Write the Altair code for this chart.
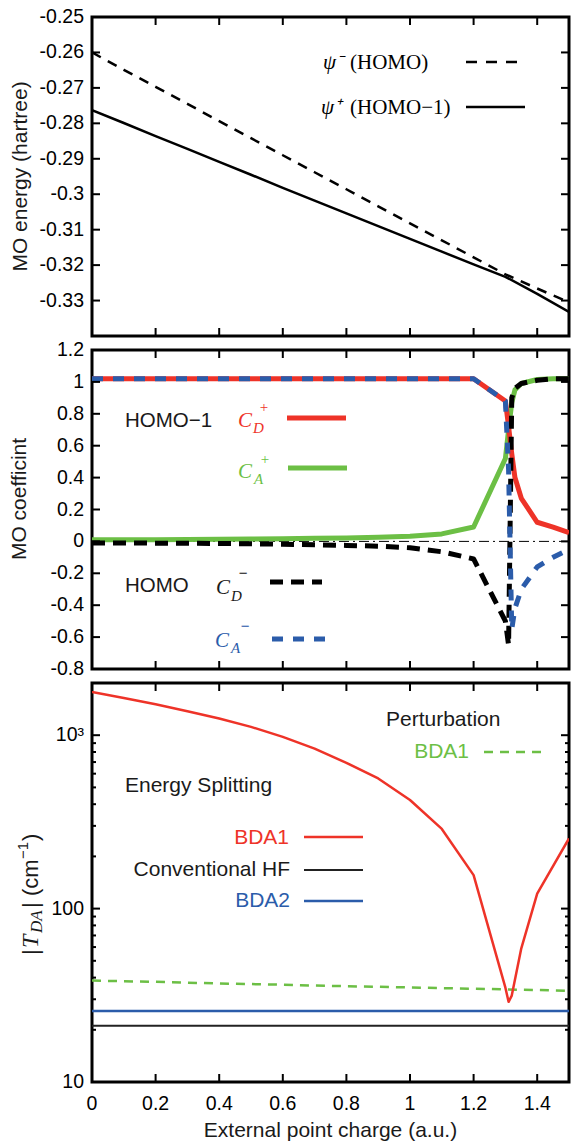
import altair as alt
import pandas as pd

# ---------------- data ----------------
# Panel 1: MO energies (hartree)
x_energy = [0.0, 0.1, 0.2, 0.3, 0.4, 0.5, 0.6, 0.7, 0.8, 0.9, 1.0, 1.1, 1.2, 1.3, 1.4, 1.5]
psi_minus = [-0.2600, -0.2649, -0.2697, -0.2745, -0.2794, -0.2842, -0.2890, -0.2938,
             -0.2986, -0.3034, -0.3082, -0.3130, -0.3178, -0.3226, -0.3266, -0.3305]
psi_plus = [-0.2763, -0.2799, -0.2836, -0.2872, -0.2909, -0.2945, -0.2982, -0.3018,
            -0.3054, -0.3090, -0.3126, -0.3162, -0.3198, -0.3233, -0.3281, -0.3332]

# Panel 2: MO coefficients
x_coef = [0.0, 0.1, 0.2, 0.3, 0.4, 0.5, 0.6, 0.7, 0.8, 0.9, 1.0, 1.1, 1.2,
          1.3, 1.31, 1.32, 1.33, 1.35, 1.4, 1.45, 1.5]
cd_plus = [1.02, 1.02, 1.02, 1.02, 1.02, 1.02, 1.02, 1.02, 1.02, 1.02, 1.02, 1.02, 1.02,
           0.88, 0.72, 0.55, 0.40, 0.27, 0.12, 0.09, 0.055]
ca_plus = [0.010, 0.010, 0.011, 0.012, 0.013, 0.015, 0.017, 0.019, 0.022, 0.026, 0.032, 0.047, 0.090,
           0.52, 0.70, 0.87, 0.95, 0.99, 1.015, 1.02, 1.02]
cd_minus = [-0.010, -0.010, -0.011, -0.012, -0.013, -0.015, -0.018, -0.021, -0.025, -0.030, -0.040, -0.065, -0.110,
            -0.50, -0.65, 0.90, 0.96, 0.99, 1.01, 1.02, 1.02]
ca_minus = [1.02, 1.02, 1.02, 1.02, 1.02, 1.02, 1.02, 1.02, 1.02, 1.02, 1.02, 1.02, 1.02,
            0.88, 0.45, -0.55, -0.42, -0.30, -0.16, -0.10, -0.05]
zero_line = [0.0]

# Panel 3: |T_DA| (cm^-1)
x_tda = [0.0, 0.1, 0.2, 0.3, 0.4, 0.5, 0.6, 0.7, 0.8, 0.9, 1.0, 1.1, 1.2,
         1.3, 1.31, 1.32, 1.35, 1.4, 1.5]
bda1_split = [1776, 1641, 1507, 1374, 1247, 1117, 978, 837, 693, 563, 423, 288, 156,
              35, 29, 31.5, 59, 122, 254]
x_pert = [0.0, 0.1, 0.2, 0.3, 0.4, 0.5, 0.6, 0.7, 0.8, 0.9, 1.0, 1.1, 1.2, 1.3, 1.4, 1.5]
bda1_pert = [38.5, 38.1, 37.8, 37.4, 37.0, 36.7, 36.4, 36.0, 35.7, 35.4, 35.1, 34.8, 34.5, 34.2, 33.9, 33.6]
x_flat = [0.0, 1.5]
hf_conv = [21.1, 21.1]
bda2_split = [25.7, 25.7]

# ticks and tick labels
x_ticks = [0.0, 0.2, 0.4, 0.6, 0.8, 1.0, 1.2, 1.4]
x_tick_labels = ["0", "0.2", "0.4", "0.6", "0.8", "1", "1.2", "1.4"]
e_ticks = [-0.34, -0.33, -0.32, -0.31, -0.30, -0.29, -0.28, -0.27, -0.26, -0.25]
e_label_values = [-0.33, -0.32, -0.31, -0.30, -0.29, -0.28, -0.27, -0.26, -0.25]
e_tick_labels = ["-0.33", "-0.32", "-0.31", "-0.3", "-0.29", "-0.28", "-0.27", "-0.26", "-0.25"]
c_ticks = [-0.8, -0.6, -0.4, -0.2, 0.0, 0.2, 0.4, 0.6, 0.8, 1.0, 1.2]
c_tick_labels = ["-0.8", "-0.6", "-0.4", "-0.2", "0", "0.2", "0.4", "0.6", "0.8", "1", "1.2"]
t_major = [10, 100, 1000]
t_tick_labels = ["10", "100", "10³"]
t_minor = [20, 30, 40, 50, 60, 70, 80, 90, 200, 300, 400, 500, 600, 700, 800, 900]

# texts
title_energy = "MO energy (hartree)"
title_coef = "MO coefficint"
title_x = "External point charge (a.u.)"

# ---------------- style ----------------
FONT = "Liberation Sans"
SERIF = "Liberation Serif"
INK = "#1a1a1a"
RED = "#ee3328"
GREEN = "#6cbf45"
BLUE = "#2b5caa"
W = 477
H1, H2, H3 = 319, 319, 399
LAB = 19.5
PAD0 = {"left": 0, "right": 0, "top": 0, "bottom": 0}

xscale = alt.Scale(domain=[0, 1.5], nice=False, zero=False)
escale = alt.Scale(domain=[-0.34, -0.25], nice=False, zero=False)
cscale = alt.Scale(domain=[-0.8, 1.2], nice=False, zero=False)
tscale = alt.Scale(type="log", domain=[10, 2000], nice=False)

one = pd.DataFrame({"k": [0]})


def line(df, ycol, scale, color, width, dash=None):
    kw = dict(color=color, strokeWidth=width, clip=True, strokeJoin="round")
    if dash:
        kw["strokeDash"] = dash
    return alt.Chart(df).mark_line(**kw).encode(
        x=alt.X("x:Q", scale=xscale, axis=None),
        y=alt.Y(f"{ycol}:Q", scale=scale, axis=None))


def txt(s, x, y, size=20.5, color=INK, font=FONT, style="normal", align="left", angle=0):
    kw = dict(fontSize=size, color=color, font=font, align=align, baseline="middle", fontStyle=style)
    if angle:
        kw["angle"] = angle
    return alt.Chart(pd.DataFrame({"t": [s]})).mark_text(**kw).encode(
        text="t:N", x=alt.value(x), y=alt.value(y))


def seg(x1, x2, y, color, width, dash=None):
    kw = dict(color=color, strokeWidth=width, strokeCap="butt")
    if dash:
        kw["strokeDash"] = dash
    return alt.Chart(one).mark_rule(**kw).encode(x=alt.value(x1), x2=alt.value(x2), y=alt.value(y))


def xtick_layers(h, length=8):
    df = pd.DataFrame({"v": x_ticks})
    b = alt.Chart(df).mark_rule(color="black", strokeWidth=2, clip=True)
    xe = alt.X("v:Q", scale=xscale, axis=None)
    return [b.encode(x=xe, y=alt.value(0), y2=alt.value(length)),
            b.encode(x=xe, y=alt.value(h - length), y2=alt.value(h))]


def ytick_layers(values, scale, length=8):
    df = pd.DataFrame({"v": values})
    b = alt.Chart(df).mark_rule(color="black", strokeWidth=2, clip=True)
    ye = alt.Y("v:Q", scale=scale, axis=None)
    return [b.encode(y=ye, x=alt.value(0), x2=alt.value(length)),
            b.encode(y=ye, x=alt.value(W - length), x2=alt.value(W))]


def ylabels(values, labels, scale):
    df = pd.DataFrame({"v": values, "s": labels})
    return alt.Chart(df).mark_text(align="right", baseline="middle", fontSize=LAB, font=FONT,
                                   color="black").encode(
        y=alt.Y("v:Q", scale=scale, axis=None), x=alt.value(-8), text="s:N")


def xlabels(h):
    df = pd.DataFrame({"v": x_ticks, "s": x_tick_labels})
    return alt.Chart(df).mark_text(align="center", baseline="middle", fontSize=LAB, font=FONT,
                                   color="black").encode(
        x=alt.X("v:Q", scale=xscale, axis=None), y=alt.value(h + 22), text="s:N")


# ---------------- panel 1 ----------------
df1 = pd.DataFrame({"x": x_energy, "m": psi_minus, "p": psi_plus})
p1_layers = [
    line(df1, "m", escale, "black", 2.5, [10, 8]),
    line(df1, "p", escale, "black", 2.5),
    ylabels(e_label_values, e_tick_labels, escale),
]
p1_layers += xtick_layers(H1) + ytick_layers(e_ticks, escale)
p1_layers += [
    txt("ψ⁻", 231, 46, size=21, font=SERIF, style="italic", color="black"),
    txt("(HOMO)", 258, 46, size=21, font=SERIF, color="black"),
    txt("ψ⁺", 229, 91, size=21, font=SERIF, style="italic", color="black"),
    txt("(HOMO−1)", 258, 91, size=21, font=SERIF, color="black"),
    seg(374, 426, 45, "black", 2.5, [11, 9]),
    seg(374, 433, 90, "black", 2.5),
    txt(title_energy, -71, H1 / 2, size=21, align="center", angle=270),
    # invisible extent marker (sets the outer margin: 94 px left, 19 px top)
    alt.Chart(one).mark_rule(opacity=0).encode(x=alt.value(-90), x2=alt.value(0), y=alt.value(-15)),
]
p1 = alt.layer(*p1_layers).properties(width=W, height=H1)

# ---------------- panel 2 ----------------
df2 = pd.DataFrame({"x": x_coef, "dp": cd_plus, "ap": ca_plus, "dm": cd_minus, "am": ca_minus})
p2_layers = [
    alt.Chart(pd.DataFrame({"z": zero_line})).mark_rule(color="black", strokeWidth=1, clip=True,
                                                       strokeDash=[10, 4, 2, 4]).encode(
        y=alt.Y("z:Q", scale=cscale, axis=None)),
    line(df2, "ap", cscale, GREEN, 5),
    line(df2, "dp", cscale, RED, 5),
    line(df2, "dm", cscale, "black", 5, [13, 8]),
    line(df2, "am", cscale, BLUE, 5, [11, 10]),
    ylabels(c_ticks, c_tick_labels, cscale),
]
p2_layers += xtick_layers(H2) + ytick_layers(c_ticks, cscale)
p2_layers += [
    txt("HOMO−1", 33, 71, color=INK),
    txt("C", 146, 71, size=21, font=SERIF, style="italic", color=RED),
    txt("D", 161, 78, size=15, font=SERIF, style="italic", color=RED),
    txt("+", 172, 57, size=15, font=SERIF, color=RED, align="center"),
    seg(195, 254, 68, RED, 5),
    txt("C", 146, 122, size=21, font=SERIF, style="italic", color=GREEN),
    txt("A", 162, 129, size=15, font=SERIF, style="italic", color=GREEN),
    txt("+", 173, 109, size=15, font=SERIF, color=GREEN, align="center"),
    seg(196, 255, 118, GREEN, 5),
    txt("HOMO", 33, 236, color=INK),
    txt("C", 124, 238, size=21, font=SERIF, style="italic", color=INK),
    txt("D", 139, 246, size=15, font=SERIF, style="italic", color=INK),
    txt("−", 151, 223, size=15, color=INK, align="center"),
    seg(178, 230, 232, "black", 5, [13, 8]),
    txt("C", 123, 291, size=21, font=SERIF, style="italic", color=BLUE),
    txt("A", 139, 298, size=15, font=SERIF, style="italic", color=BLUE),
    txt("−", 153, 276, size=15, color=BLUE, align="center"),
    seg(180, 234, 289, BLUE, 5, [11, 10]),
    txt(title_coef, -72, 149, size=21, align="center", angle=270),
]
p2 = alt.layer(*p2_layers).properties(width=W, height=H2)

# ---------------- panel 3 ----------------
df3a = pd.DataFrame({"x": x_tda, "v": bda1_split})
df3b = pd.DataFrame({"x": x_pert, "v": bda1_pert})
df3c = pd.DataFrame({"x": x_flat, "hf": hf_conv, "b2": bda2_split})
p3_layers = [
    line(df3c, "hf", tscale, "#222222", 2),
    line(df3c, "b2", tscale, BLUE, 2.5),
    line(df3b, "v", tscale, GREEN, 2.5, [9, 7]),
    line(df3a, "v", tscale, RED, 2.5),
    ylabels(t_major, t_tick_labels, tscale),
    xlabels(H3),
]
p3_layers += xtick_layers(H3) + ytick_layers(t_major, tscale) + ytick_layers(t_minor, tscale, length=4)
p3_layers += [
    txt("Perturbation", 294, 37, color=INK, size=21),
    txt("BDA1", 377, 69, color=GREEN, size=21, align="right"),
    seg(392, 449, 69, GREEN, 2.5, [9, 7]),
    txt("Energy Splitting", 33, 103, color=INK, size=21),
    txt("BDA1", 197, 155, color=RED, size=21, align="right"),
    seg(212, 271, 154, RED, 2.5),
    txt("Conventional HF", 198, 187, color=INK, size=21, align="right"),
    seg(212, 271, 187, "#222222", 2),
    txt("BDA2", 198, 218, color=BLUE, size=21, align="right"),
    seg(212, 271, 218, BLUE, 2.5),
    # y title |T_DA| (cm^-1), rotated, built from pieces
    txt("|", -61, 272, size=22, color=INK, angle=270),
    txt("T", -61, 265, size=24, font=SERIF, style="italic", color=INK, angle=270),
    txt("DA", -55, 250, size=17, font=SERIF, style="italic", color=INK, angle=270),
    txt("|", -61, 225, size=22, color=INK, angle=270),
    txt("(cm", -61, 213, size=22, color=INK, angle=270),
    txt("−1", -69, 176, size=15, color=INK, angle=270),
    txt(")", -61, 158, size=22, color=INK, angle=270),
    txt(title_x, W / 2, 448, size=21, align="center", color=INK),
]
p3 = alt.layer(*p3_layers).properties(width=W, height=H3)

chart = alt.vconcat(p1, p2, p3, spacing=14, bounds="flush", padding=PAD0).configure(
    background="white", font=FONT, padding=PAD0).configure_view(stroke="black", strokeWidth=3)

chart.save("out.html", embed_options={"renderer": "svg", "actions": False})
